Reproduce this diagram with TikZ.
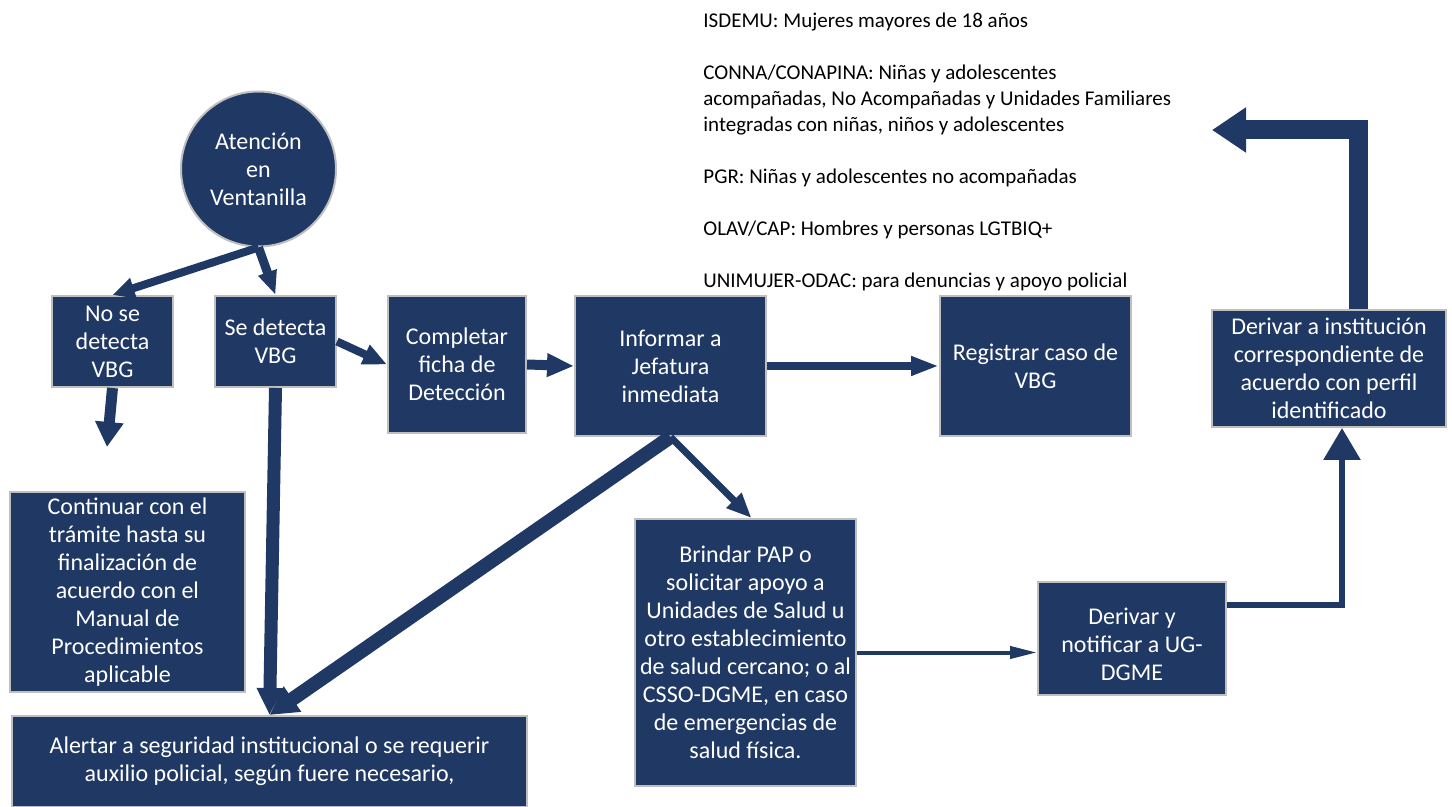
\documentclass[tikz,border=0pt]{standalone}
\usepackage{fontspec}
\setmainfont{Carlito}
\usetikzlibrary{arrows.meta, positioning, shapes}
\definecolor{navy}{RGB}{31,56,100}
\definecolor{edgegray}{RGB}{191,191,191}

\begin{document}
\begin{tikzpicture}[x=0.5pt, y=-0.5pt, line join=miter,
        box/.style={rectangle, draw=edgegray, line width=1pt, fill=navy, text=white,
            align=center, inner sep=2pt, font=\fontsize{12}{14}\selectfont},
        blk/.style n args={3}{draw=navy, line width=#1, -{Triangle[width=#2, length=#3]}}]
        \useasboundingbox (0,0) rectangle (1452,807);
        \node[box, circle, minimum size=77.5pt] (aten) at (258.5,169) {Atención\\en\\Ventanilla};
        \node[box, minimum width=60.5pt, minimum height=45.5pt] (nodet) at (112.5,341.5) {No se\\detecta\\VBG};
        \node[box, minimum width=60.5pt, minimum height=45.5pt] (det) at (275.5,341.5) {Se detecta\\VBG};
        \node[box, minimum width=69pt, minimum height=68.5pt] (ficha) at (457,364.5) {Completar\\ficha de\\Detección};
        \node[box, minimum width=95.5pt, minimum height=70pt] (jefe) at (670.5,366) {Informar a\\Jefatura\\inmediata};
        \node[box, minimum width=95.5pt, minimum height=70pt] (reg) at (1035.5,366) {Registrar caso de\\VBG};
        \node[box, minimum width=117pt, minimum height=58.5pt] (inst) at (1329,368.5) {Derivar a institución\\correspondiente de\\acuerdo con perfil\\identificado};
        \node[box, minimum width=117.5pt, minimum height=100pt] (cont) at (127.5,592) {Continuar con el\\trámite hasta su\\finalización de\\acuerdo con el\\Manual de\\Procedimientos\\aplicable};
        \node[box, minimum width=257.5pt, minimum height=45.5pt] (alert) at (269.5,761.5) {Alertar a seguridad institucional o se requerir\\auxilio policial, según fuere necesario,};
        \node[box, minimum width=110.5pt, minimum height=133.5pt] (pap) at (745.5,652.5) {Brindar PAP o\\solicitar apoyo a\\Unidades de Salud u\\otro establecimiento\\de salud cercano; o al\\CSSO-DGME, en caso\\de emergencias de\\salud física.};
        \node[box, minimum width=94pt, minimum height=56.5pt] (ug) at (1132,638.5) {\\Derivar y\\notificar a UG-\\DGME};
        \node[anchor=north west, align=left, inner sep=0pt, font=\fontsize{10.5}{13}\selectfont] (perfiles) at (703,13)
            {ISDEMU: Mujeres mayores de 18 años\\[13pt]
             CONNA/CONAPINA: Niñas y adolescentes\\
             acompañadas, No Acompañadas y Unidades Familiares\\
             integradas con niñas, niños y adolescentes\\[13pt]
             PGR: Niñas y adolescentes no acompañadas\\[13pt]
             OLAV/CAP: Hombres y personas LGTBIQ+\\[13pt]
             UNIMUJER-ODAC: para denuncias y apoyo policial};
        \coordinate (nodetend) at (107,447);
        \coordinate (back) at (1212,130);
        \draw[blk={4pt}{10pt}{11pt}] (aten.south) -- (nodet.north);
        \draw[blk={4.5pt}{9pt}{12pt}] (aten.south) -- (det.north);
        \draw[blk={5.5pt}{13.5pt}{12.5pt}] (nodet.south) -- (nodetend);
        \draw[blk={6.5pt}{12.5pt}{13.5pt}] (det.south) -- (alert.north);
        \draw[blk={4pt}{10pt}{12pt}] (det.east) -- (ficha.west);
        \draw[blk={5pt}{11pt}{13.5pt}] (ficha.east) -- (jefe.west);
        \draw[blk={4pt}{9pt}{14pt}] (jefe.east) -- (reg.west);
        \draw[blk={7pt}{14.5pt}{14pt}] (jefe.south) -- (alert.north);
        \draw[blk={3.5pt}{10pt}{12.5pt}] (jefe.south) -- ([xshift=3pt]pap.north);
        \draw[blk={2pt}{6pt}{13.5pt}] (pap.east) -- (pap.east -| ug.west);
        \draw[blk={3pt}{18pt}{16pt}] ([yshift=16.5pt]ug.east) -| ([xshift=6.5pt]inst.south);
        \draw[blk={9.5pt}{21.5pt}{17pt}] ([xshift=14.5pt]inst.north) |- (back);
    \end{tikzpicture}
\end{document}
